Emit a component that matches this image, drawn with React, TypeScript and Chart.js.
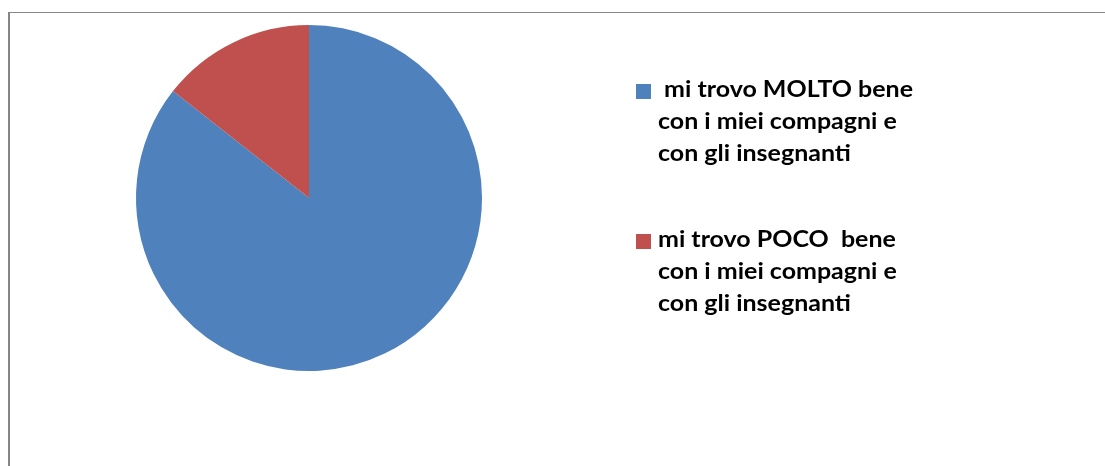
import React, { useEffect, useRef } from "react";
import { Chart, registerables } from "chart.js";

Chart.register(...registerables);

const categories: string[][] = [
  ["\u00a0mi trovo MOLTO bene", "con i miei compagni e", "con gli insegnanti"],
  ["mi trovo POCO\u00a0 bene", "con i miei compagni e", "con gli insegnanti"],
];
const values: number[] = [85.6, 14.4];
const colors: string[] = ["#4F81BD", "#C0504D"];

export default function App() {
  const canvasRef = useRef<HTMLCanvasElement | null>(null);

  useEffect(() => {
    if (!canvasRef.current) return;
    const chart = new Chart(canvasRef.current, {
      type: "pie",
      data: {
        labels: categories.map((c) => c.join(" ")),
        datasets: [
          {
            data: values,
            backgroundColor: colors,
            borderWidth: 0,
          },
        ],
      },
      options: {
        animation: false,
        responsive: false,
        maintainAspectRatio: false,
        layout: { padding: { left: 136, right: 623, top: 25, bottom: 95 } },
        plugins: {
          legend: { display: false },
          tooltip: { enabled: false },
        },
      },
    });
    return () => chart.destroy();
  }, []);

  const legendTops = [73, 223];

  return (
    <div
      style={{
        position: "fixed",
        left: 0,
        top: 0,
        width: 1105,
        height: 466,
        overflow: "hidden",
        background: "#ffffff",
      }}
    >
      <div
        style={{
          position: "absolute",
          left: 8,
          top: 12,
          width: 1200,
          height: 600,
          borderTop: "1px solid #868686",
          borderLeft: "2px solid #868686",
          boxSizing: "border-box",
        }}
      />
      <canvas
        ref={canvasRef}
        width={1105}
        height={466}
        style={{ position: "absolute", left: 0, top: 0, width: 1105, height: 466 }}
      />
      {categories.map((lines, i) => (
        <div
          key={i}
          style={{
            position: "absolute",
            left: 636,
            top: legendTops[i],
            fontFamily: "Lato, 'Open Sans', sans-serif",
            fontWeight: 700,
            fontSize: 22,
            lineHeight: "32px",
            color: "#000000",
          }}
        >
          <div
            style={{
              position: "absolute",
              left: 0,
              top: 11,
              width: 15,
              height: 15,
              background: colors[i],
            }}
          />
          <div
            style={{
              marginLeft: 22,
              whiteSpace: "pre",
              transform: "scaleX(1.136)",
              transformOrigin: "left top",
            }}
          >
            {lines.map((l, j) => (
              <div key={j}>{l}</div>
            ))}
          </div>
        </div>
      ))}
    </div>
  );
}
